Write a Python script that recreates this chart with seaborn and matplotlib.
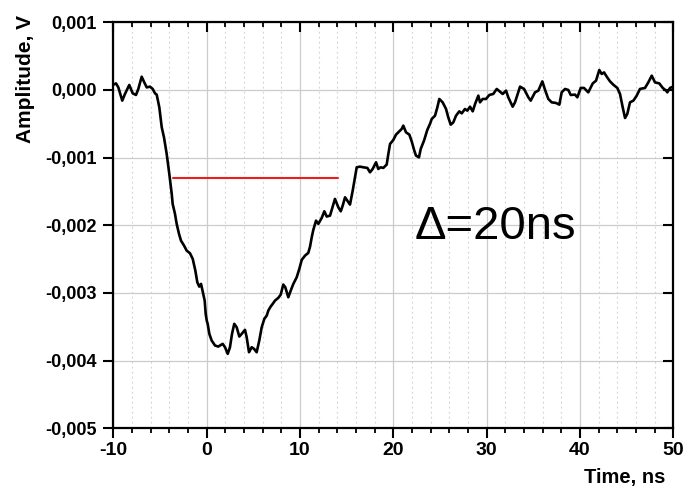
import numpy as np
import matplotlib
matplotlib.use("Agg")
import matplotlib.pyplot as plt
from matplotlib.ticker import MultipleLocator, FuncFormatter
import seaborn as sns

# ---- data (time in ns, amplitude in mV; converted to V for plotting) ----
time_ns = [-10.00, -9.71, -9.46, -9.04, -8.75, -8.29, -7.92, -7.57, -7.32, -6.96,
           -6.68, -6.42, -6.07, -5.78, -5.53, -5.35, -5.07, -4.81, -4.57, -4.28,
           -4.00, -3.74, -3.64, -3.39, -3.21, -2.96, -2.75, -2.42, -2.14, -1.78,
           -1.49, -1.21, -1.00, -0.79, -0.60, -0.36, -0.21, -0.10, 0.01, 0.11,
           0.29, 0.54, 0.90, 1.25, 1.72, 1.97, 2.26, 2.50, 2.72, 2.96,
           3.22, 3.50, 3.76, 4.11, 4.29, 4.54, 4.83, 5.08, 5.36, 5.64,
           5.90, 6.18, 6.44, 6.61, 6.86, 7.08, 7.33, 7.68, 7.94, 8.21,
           8.43, 8.75, 9.01, 9.29, 9.65, 9.93, 10.19, 10.54, 10.89, 11.08,
           11.26, 11.43, 11.72, 11.97, 12.33, 12.61, 12.87, 13.22, 13.51, 13.75,
           14.11, 14.37, 14.58, 14.83, 15.07, 15.36, 15.65, 15.90, 16.08, 16.43,
           16.79, 17.22, 17.50, 17.79, 18.15, 18.39, 18.65, 18.93, 19.29, 19.47,
           19.65, 20.00, 20.29, 20.64, 20.90, 21.07, 21.36, 21.72, 21.97, 22.25,
           22.43, 22.75, 22.94, 23.29, 23.64, 23.93, 24.12, 24.47, 24.72, 24.93,
           25.29, 25.65, 25.89, 26.15, 26.43, 26.72, 27.07, 27.33, 27.68, 27.93,
           28.22, 28.51, 28.76, 29.11, 29.29, 29.58, 29.93, 30.29, 30.71, 31.08,
           31.72, 32.08, 32.32, 32.79, 33.04, 33.58, 34.01, 34.47, 34.72, 35.18,
           35.54, 35.97, 36.26, 36.61, 36.97, 37.43, 37.79, 38.04, 38.40, 38.75,
           39.01, 39.47, 39.72, 40.08, 40.43, 40.65, 40.89, 41.37, 41.72, 42.07,
           42.33, 42.58, 42.87, 43.22, 43.57, 44.00, 44.29, 44.58, 44.83, 45.07,
           45.36, 45.72, 46.08, 46.43, 46.97, 47.32, 47.69, 48.04, 48.50, 48.87,
           49.22, 49.36, 49.65, 49.97]
amp_mv = [0.078, 0.097, 0.038, -0.158, -0.059, 0.074, -0.050, -0.074, 0.015, 0.196,
          0.112, 0.038, 0.049, 0.015, -0.050, -0.069, -0.257, -0.552, -0.700, -0.945,
          -1.241, -1.536, -1.684, -1.832, -1.979, -2.127, -2.226, -2.300, -2.374, -2.414,
          -2.496, -2.669, -2.842, -2.906, -2.866, -3.013, -3.112, -3.309, -3.408, -3.456,
          -3.604, -3.703, -3.777, -3.792, -3.752, -3.802, -3.900, -3.802, -3.604, -3.456,
          -3.507, -3.644, -3.604, -3.545, -3.654, -3.876, -3.802, -3.826, -3.876, -3.703,
          -3.507, -3.383, -3.334, -3.260, -3.201, -3.161, -3.112, -3.072, -3.024, -2.876,
          -2.916, -3.064, -2.965, -2.866, -2.768, -2.644, -2.511, -2.448, -2.408, -2.315,
          -2.177, -2.068, -1.931, -1.979, -1.891, -1.793, -1.871, -1.857, -1.724, -1.610,
          -1.734, -1.793, -1.709, -1.586, -1.635, -1.694, -1.487, -1.291, -1.143, -1.133,
          -1.143, -1.152, -1.217, -1.167, -1.069, -1.167, -1.143, -1.152, -1.103, -0.945,
          -0.798, -0.739, -0.660, -0.612, -0.576, -0.527, -0.626, -0.660, -0.759, -0.897,
          -0.970, -0.996, -0.871, -0.749, -0.591, -0.502, -0.428, -0.380, -0.257, -0.133,
          -0.183, -0.281, -0.405, -0.513, -0.479, -0.380, -0.316, -0.346, -0.281, -0.306,
          -0.247, -0.316, -0.207, -0.084, -0.183, -0.133, -0.133, -0.074, -0.059, 0.015,
          -0.059, -0.010, -0.109, -0.247, -0.183, 0.049, 0.015, -0.109, -0.158, -0.035,
          -0.010, 0.127, 0.000, -0.133, -0.183, -0.192, -0.217, -0.035, 0.015, 0.000,
          -0.074, -0.069, -0.109, 0.030, 0.030, 0.000, -0.035, 0.097, 0.137, 0.295,
          0.236, 0.260, 0.196, 0.127, 0.078, 0.030, -0.059, -0.257, -0.414, -0.355,
          -0.183, -0.158, -0.084, 0.015, 0.030, 0.112, 0.211, 0.112, 0.097, 0.030,
          -0.010, -0.035, 0.030, 0.049]

marker_t = [-3.57, 14.11]
marker_amp_mv = [-1.295, -1.295]

x_ticks = [-10, 0, 10, 20, 30, 40, 50]
x_minor_step = 2
y_ticks = [-0.005, -0.004, -0.003, -0.002, -0.001, 0.000, 0.001]
annotation = "\u0394=20ns"

amp_v = np.array(amp_mv) * 1e-3
marker_amp_v = np.array(marker_amp_mv) * 1e-3

# ---- style ----
sns.set_style("white")
plt.rcParams['font.family'] = ['Liberation Sans', 'DejaVu Sans']
plt.rcParams['text.color'] = 'black'
plt.rcParams['xtick.color'] = 'black'
plt.rcParams['ytick.color'] = 'black'
plt.rcParams['axes.labelcolor'] = 'black'

fig = plt.figure(figsize=(6.85, 4.87), dpi=100)
rect = [113.3 / 685, 1 - 428.3 / 487, 560 / 685, (428.3 - 22.3) / 487]
ax = fig.add_axes(rect)

sns.lineplot(x=time_ns, y=amp_v, ax=ax, color='black', linewidth=1.9, sort=False)
sns.lineplot(x=marker_t, y=marker_amp_v, ax=ax, color='#ee1c1c', linewidth=1.5, sort=False)

ax.set_xlim(-10, 50)
ax.set_ylim(-0.005, 0.001)
ax.set_xticks(x_ticks)
ax.set_yticks(y_ticks)
ax.xaxis.set_minor_locator(MultipleLocator(x_minor_step))
ax.xaxis.set_major_formatter(FuncFormatter(lambda v, p: f"{int(round(v))}"))


def yfmt(v, p):
    s = f"{v:.3f}".replace('.', ',')
    if s == "-0,000":
        s = "0,000"
    return s


ax.yaxis.set_major_formatter(FuncFormatter(yfmt))

# grid
ax.grid(True, which='major', color='#cccccc', linewidth=0.9, linestyle='-')
ax.grid(True, which='minor', axis='x', color='#d0d0d0', linewidth=0.8, linestyle=(0, (1.5, 3)))
ax.set_axisbelow(True)

for s in ax.spines.values():
    s.set_visible(True)
    s.set_color('black')
    s.set_linewidth(1.6)

ax.tick_params(axis='x', which='major', bottom=True, top=False, direction='out',
               length=7.2, width=1.5, labelsize=14, pad=3, colors='black')
ax.tick_params(axis='x', which='minor', bottom=True, top=False, direction='out',
               length=3.6, width=1.3)
ax.tick_params(axis='y', which='major', left=True, right=False, direction='out',
               length=7.5, width=1.5, labelsize=13, pad=4.5, colors='black')
for lab in ax.get_xticklabels() + ax.get_yticklabels():
    lab.set_fontweight('bold')

# inward tick marks along the top edge (x from data, y on the axes edge)
minor_x = [v for v in ax.xaxis.get_minorticklocs() if -10 <= v <= 50]
xform_top = ax.get_xaxis_transform()
ax.plot(minor_x, [1.0] * len(minor_x), transform=xform_top, linestyle='none',
        marker=3, markersize=3.6, markeredgewidth=1.3, color='black', clip_on=False, zorder=5)
ax.plot(x_ticks, [1.0] * len(x_ticks), transform=xform_top, linestyle='none',
        marker=3, markersize=7.2, markeredgewidth=1.5, color='black', clip_on=False, zorder=5)

# inward tick marks along the right edge
xform_right = ax.get_yaxis_transform()
ax.plot([1.0] * len(y_ticks), y_ticks, transform=xform_right, linestyle='none',
        marker=0, markersize=7.5, markeredgewidth=1.5, color='black', clip_on=False, zorder=5)

ax.set_xlim(-10, 50)
ax.set_ylim(-0.005, 0.001)

fig.text(665 / 685, 1 - 483 / 487, "Time, ns", ha='right', va='baseline',
         fontsize=14.5, fontweight='bold', color='black')
fig.text(16 / 685, 1 - 15 / 487, "Amplitude, V", ha='left', va='top', rotation=90,
         fontsize=15, fontweight='bold', color='black')

ax.set_xlabel("")
ax.set_ylabel("")
ax.text(22.3, -0.0022, annotation, ha='left', va='baseline', fontsize=34, color='black')

fig.savefig("out.png", dpi=100)
